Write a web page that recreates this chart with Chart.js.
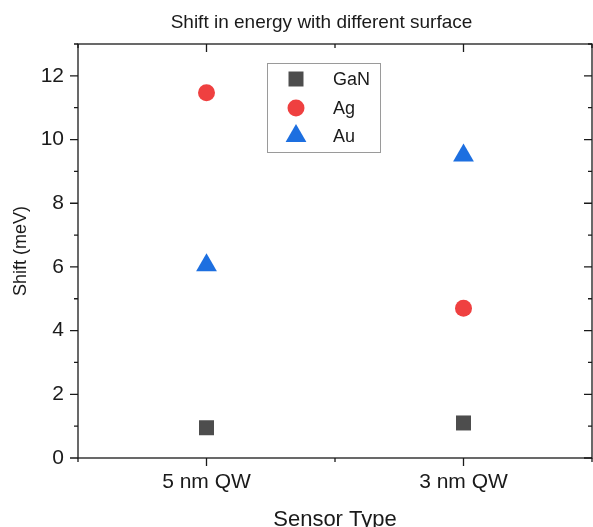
<!DOCTYPE html>
<html>
<head>
<meta charset="utf-8">
<script src="https://cdn.jsdelivr.net/npm/chart.js@4.4.0/dist/chart.umd.min.js"></script>
<style>
  html, body { margin: 0; padding: 0; background: #fff; }
  #wrap { width: 593px; height: 527px; }
</style>
</head>
<body>
<div id="wrap"><canvas id="grafico"></canvas></div>
<script>
const categorias = ["5 nm QW", "3 nm QW"];
const ganShift = [0.95, 1.1];
const agShift = [11.47, 4.7];
const auShift = [6.05, 9.5];
const yMajor = [0, 2, 4, 6, 8, 10, 12];

const FONT = "'Liberation Sans', Arial, sans-serif";
const INK = "#1a1a1a";

function pontos(valores) {
    return valores.map((v, i) => ({ x: i + 1, y: v }));
}

// moldura + ticks estilo Origin (maiores/menores, dentro no topo/direita)
const molduraPlugin = {
    id: "moldura",
    beforeDatasetsDraw(chart) {
        const { ctx, chartArea: a, scales } = chart;
        const x = scales.x, y = scales.y;
        ctx.save();
        ctx.strokeStyle = INK;
        ctx.lineWidth = 1.3;
        ctx.strokeRect(a.left, a.top, a.right - a.left, a.bottom - a.top);
        ctx.beginPath();
        for (let v = 0.5; v <= 2.5; v += 0.5) {
            const px = x.getPixelForValue(v);
            const len = Number.isInteger(v) ? 8 : 4;
            ctx.moveTo(px, a.bottom); ctx.lineTo(px, a.bottom + len);
            ctx.moveTo(px, a.top); ctx.lineTo(px, a.top + len);
        }
        for (let v = 0; v <= 13; v++) {
            const py = y.getPixelForValue(v);
            const len = v % 2 === 0 ? 8 : 4;
            ctx.moveTo(a.left, py); ctx.lineTo(a.left - len, py);
            ctx.moveTo(a.right, py); ctx.lineTo(a.right - len, py);
        }
        ctx.stroke();
        ctx.restore();
    },
    afterDraw(chart) {
        const { ctx } = chart;
        ctx.save();
        ctx.fillStyle = INK;
        ctx.font = "19px " + FONT;
        ctx.textAlign = "center";
        ctx.textBaseline = "alphabetic";
        ctx.fillText("Shift in energy with different surface", 321.5, 28);

        // legenda dentro do gráfico
        ctx.strokeStyle = "#9a9a9a";
        ctx.lineWidth = 1;
        ctx.strokeRect(267.5, 63.5, 113, 89);
        const ys = [79, 108, 136];
        chart.data.datasets.forEach((ds, i) => {
            ctx.fillStyle = ds.backgroundColor;
            ctx.strokeStyle = ds.borderColor;
            ctx.lineWidth = 0;
            Chart.helpers.drawPoint(ctx, { pointStyle: ds.pointStyle, radius: ds.pointRadius, rotation: 0, borderWidth: 0 }, 296, ys[i]);
            ctx.fillStyle = INK;
            ctx.textAlign = "left";
            ctx.textBaseline = "middle";
            ctx.font = "18px " + FONT;
            ctx.fillText(ds.label, 333, ys[i] + 1);
        });
        ctx.restore();
    }
};

new Chart(document.getElementById("grafico"), {
    type: "scatter",
    data: {
        datasets: [
            { label: "GaN", data: pontos(ganShift), pointStyle: "rect", pointRadius: 10.6,
              backgroundColor: "#4d4d4d", borderColor: "#4d4d4d", borderWidth: 0 },
            { label: "Ag", data: pontos(agShift), pointStyle: "circle", pointRadius: 8.5,
              backgroundColor: "#ef4040", borderColor: "#ef4040", borderWidth: 0 },
            { label: "Au", data: pontos(auShift), pointStyle: "triangle", pointRadius: 12,
              backgroundColor: "#1d6fe0", borderColor: "#1d6fe0", borderWidth: 0 }
        ]
    },
    options: {
        responsive: true,
        maintainAspectRatio: false,
        animation: false,
        layout: { autoPadding: false, padding: { top: 44, right: 1, left: 0, bottom: 0 } },
        plugins: { legend: { display: false }, title: { display: false }, tooltip: { enabled: false } },
        scales: {
            x: {
                type: "linear",
                min: 0.5, max: 2.5,
                afterFit: s => { s.height = 69; s.paddingLeft = 0; s.paddingRight = 0; },
                afterBuildTicks: s => { s.ticks = [1, 2].map(v => ({ value: v })); },
                grid: { display: false, drawTicks: false },
                border: { display: false },
                ticks: {
                    padding: 12,
                    color: INK,
                    font: { family: FONT, size: 21 },
                    callback: v => categorias[v - 1] || ""
                },
                title: { display: true, text: "Sensor Type", color: INK,
                         font: { family: FONT, size: 22 }, padding: { top: 0, bottom: -6 } }
            },
            y: {
                min: 0, max: 13,
                afterFit: s => { s.width = 78; s.paddingTop = 0; s.paddingBottom = 0; },
                afterBuildTicks: s => { s.ticks = yMajor.map(v => ({ value: v })); },
                grid: { display: false, drawTicks: false },
                border: { display: false },
                ticks: { padding: 14, color: INK, font: { family: FONT, size: 21 } },
                title: { display: true, text: "Shift (meV)", color: INK,
                         font: { family: FONT, size: 18 }, padding: { top: 10, bottom: 0 } }
            }
        }
    },
    plugins: [molduraPlugin]
});
</script>
</body>
</html>
